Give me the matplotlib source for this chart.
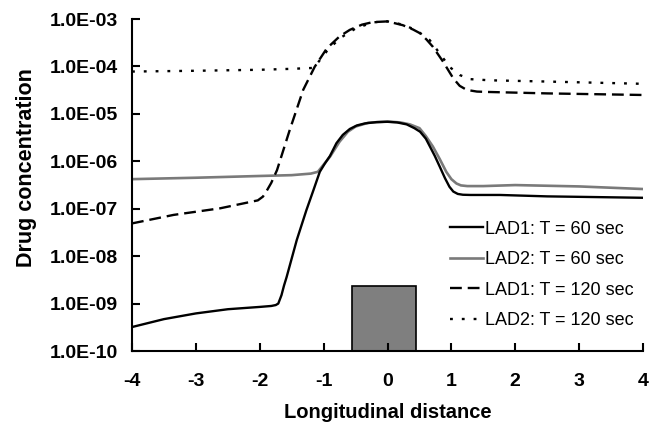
import numpy as np
import matplotlib
matplotlib.use("Agg")
import matplotlib.pyplot as plt
from matplotlib.ticker import FixedLocator, FuncFormatter, NullLocator

plt.rcParams["font.family"] = ["Liberation Sans", "DejaVu Sans"]

# LAD1, T = 60 sec (solid black)
lad1_60_x = [-4, -3.5, -3, -2.5, -2, -1.82, -1.75, -1.71, -1.66, -1.62, -1.58, -1.42,
             -1.27, -1.16, -1.06, -0.98, -0.9, -0.8, -0.7, -0.59, -0.48, -0.35, -0.17,
             0, 0.15, 0.3, 0.42, 0.51, 0.6, 0.66, 0.74, 0.82, 0.9, 0.97, 1.03, 1.1, 1.18,
             1.3, 1.76, 2.5, 3, 4]
lad1_60_y = [3.2e-10, 4.7e-10, 6.2e-10, 7.6e-10, 8.5e-10, 8.9e-10, 9.3e-10, 1.0e-09,
             1.5e-09, 2.4e-09, 3.6e-09, 2.2e-08, 9.3e-08, 2.45e-07, 6.0e-07, 9.0e-07,
             1.3e-06, 2.4e-06, 3.6e-06, 4.8e-06, 5.7e-06, 6.3e-06, 6.7e-06, 6.8e-06,
             6.6e-06, 6.0e-06, 5.0e-06, 4.2e-06, 3.0e-06, 2.1e-06, 1.3e-06, 7.6e-07,
             4.4e-07, 2.9e-07, 2.3e-07, 2.05e-07, 1.97e-07, 1.95e-07, 1.95e-07, 1.82e-07,
             1.78e-07, 1.7e-07]

# LAD2, T = 60 sec (grey)
lad2_60_x = [-4, -3, -2, -1.5, -1.2, -1.09, -1.0, -0.9, -0.75, -0.62, -0.5, -0.3, 0,
             0.2, 0.35, 0.5, 0.6, 0.71, 0.82, 0.92, 1.0, 1.08, 1.15, 1.25, 1.5, 2, 3, 4]
lad2_60_y = [4.2e-07, 4.5e-07, 4.9e-07, 5.1e-07, 5.5e-07, 6.0e-07, 8.5e-07, 1.25e-06,
             2.6e-06, 4.2e-06, 5.4e-06, 6.5e-06, 6.9e-06, 6.6e-06, 6.0e-06, 5.0e-06,
             3.4e-06, 2.05e-06, 1.1e-06, 6.0e-07, 4.2e-07, 3.4e-07, 3.1e-07, 3.0e-07,
             3.0e-07, 3.15e-07, 2.95e-07, 2.6e-07]

# LAD1, T = 120 sec (dashed)
lad1_120_x = [-4, -3.35, -2.62, -2.03, -1.95, -1.89, -1.82, -1.73, -1.53, -1.32, -1.14,
              -0.95, -0.75, -0.59, -0.4, -0.23, 0, 0.24, 0.4, 0.51, 0.61, 0.71, 0.87,
              1.03, 1.13, 1.24, 1.4, 1.55, 2.5, 4]
lad1_120_y = [4.9e-08, 7.4e-08, 1.02e-07, 1.5e-07, 1.8e-07, 2.4e-07, 3.5e-07, 6.5e-07,
              4.6e-06, 3.2e-05, 9.8e-05, 2.4e-04, 4.3e-04, 5.9e-04, 7.6e-04, 8.6e-04,
              8.9e-04, 7.4e-04, 6.0e-04, 5.0e-04, 3.7e-04, 2.6e-04, 1.26e-04, 5.6e-05,
              3.9e-05, 3.2e-05, 2.95e-05, 2.9e-05, 2.7e-05, 2.5e-05]

# LAD2, T = 120 sec (dotted)
lad2_120_x = [-4, -3, -2, -1.5, -1.16, -1.05, -0.95, -0.75, -0.5, -0.23, 0, 0.24,
              0.45, 0.66, 0.82, 0.97, 1.13, 1.29, 1.6, 2.5, 4]
lad2_120_y = [7.8e-05, 8.1e-05, 8.5e-05, 8.9e-05, 9.3e-05, 1.4e-04, 2.1e-04, 3.9e-04,
              6.3e-04, 8.5e-04, 8.9e-04, 7.6e-04, 5.8e-04, 3.6e-04, 1.86e-04, 9.8e-05,
              6.6e-05, 5.4e-05, 5.1e-05, 4.8e-05, 4.3e-05]

# grey block on the axis
block_left = -0.55
block_width = 1.0
block_top = 2.4e-09

y_ticks = [1e-10, 1e-9, 1e-8, 1e-7, 1e-6, 1e-5, 1e-4, 1e-3]
x_ticks = [-4, -3, -2, -1, 0, 1, 2, 3, 4]

fig = plt.figure(figsize=(6.56, 4.29), dpi=100)
ax = fig.add_axes([132 / 656, 1 - 351 / 429, 511 / 656, 332 / 429])

ax.bar(block_left, block_top - 1e-10, width=block_width, bottom=1e-10, align="edge",
       color="#7f7f7f", edgecolor="black", linewidth=1.2, zorder=1)

ax.plot(lad1_60_x, lad1_60_y, color="black", lw=1.7, label="LAD1: T = 60 sec", zorder=3)
ax.plot(lad2_60_x, lad2_60_y, color="#7a7a7a", lw=1.9, label="LAD2: T = 60 sec", zorder=2)
ax.plot(lad1_120_x, lad1_120_y, color="black", lw=1.7, dashes=(5, 2.5),
        label="LAD1: T = 120 sec", zorder=3)
ax.plot(lad2_120_x, lad2_120_y, color="black", lw=1.7, dashes=(1.2, 3.8),
        label="LAD2: T = 120 sec", zorder=3)

ax.set_yscale("log")
ax.set_xlim(-4, 4)
ax.set_ylim(1e-10, 1e-3)
ax.yaxis.set_major_locator(FixedLocator(y_ticks))
ax.yaxis.set_minor_locator(NullLocator())
ax.yaxis.set_major_formatter(FuncFormatter(lambda v, p: "1.0E-%02d" % round(-np.log10(v))))
ax.set_xticks(x_ticks)
ax.set_xticklabels([str(t) for t in x_ticks])

for s in ["top", "right"]:
    ax.spines[s].set_visible(False)
for s in ["left", "bottom"]:
    ax.spines[s].set_linewidth(1.5)

ax.tick_params(axis="both", direction="in", length=6, width=1.5, labelsize=14)
ax.tick_params(axis="y", pad=10)
ax.tick_params(axis="x", pad=16)
for lab in ax.get_xticklabels() + ax.get_yticklabels():
    lab.set_fontweight("bold")

fig.text(387.5 / 656, 1 - 413 / 429, "Longitudinal distance", fontsize=14.5,
         fontweight="bold", ha="center", va="center")
fig.text(27 / 656, 1 - 167.5 / 429, "Drug concentration", fontsize=15.5,
         fontweight="bold", ha="center", va="center", rotation=90)

ax.legend(loc="center left", bbox_to_anchor=(450 / 656, 1 - 275 / 429),
          bbox_transform=fig.transFigure, frameon=False, fontsize=13,
          handlelength=1.8, handletextpad=0.15, labelspacing=0.75,
          borderpad=0, borderaxespad=0)

fig.savefig("out.png", dpi=100)
